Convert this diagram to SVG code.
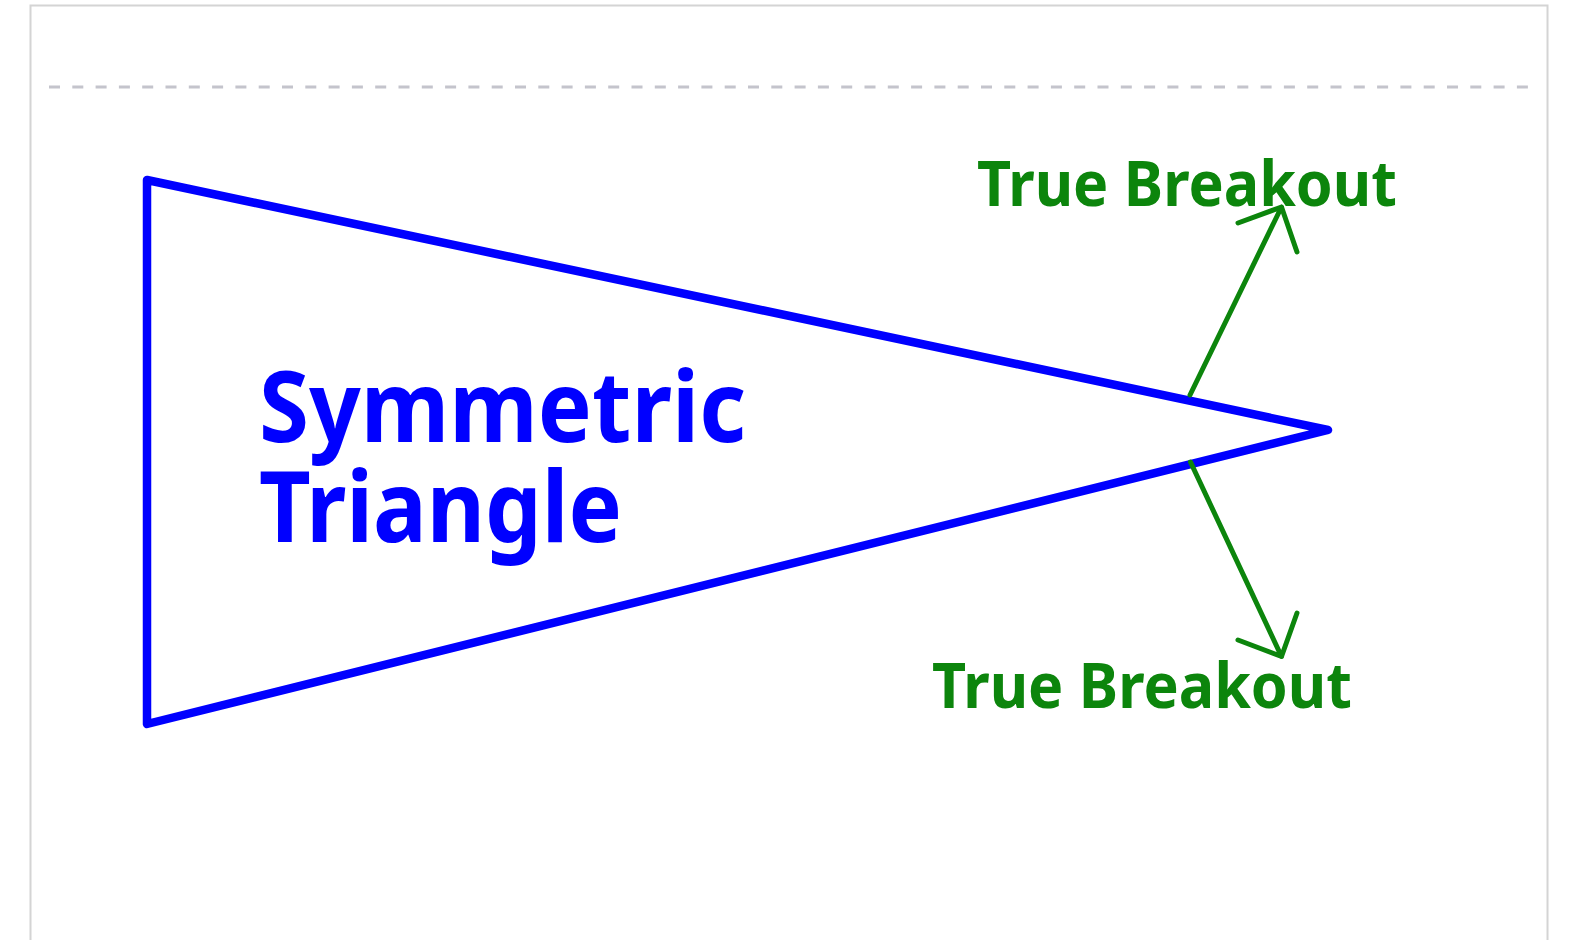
<svg xmlns="http://www.w3.org/2000/svg" width="1592" height="940" viewBox="0 0 1592 940">
<style>
.lbl{font-family:"Noto Sans","DejaVu Sans",sans-serif;font-weight:bold;}
.green{fill:#0c850c;font-size:62px;}
.blue{fill:#0000ff;font-size:98px;}
.arr{stroke:#0c850c;stroke-width:5;fill:none;stroke-linecap:round;stroke-linejoin:round;}
</style>
<rect x="0" y="0" width="1592" height="940" fill="#ffffff"/>
<rect x="30.5" y="5.5" width="1517" height="960" fill="#ffffff" stroke="#d4d4d4" stroke-width="2"/>
<line x1="49" y1="87" x2="1530" y2="87" stroke="#c4c4cc" stroke-width="3" stroke-dasharray="11 12.3"/>
<g id="triangle">
<polygon points="147,180 1328,430 147,724" fill="none" stroke="#0000ff" stroke-width="8.5" stroke-linejoin="round"/>
<text class="lbl blue" x="259" y="442" textLength="487" lengthAdjust="spacingAndGlyphs">Symmetric</text>
<text class="lbl blue" x="259" y="542" textLength="363" lengthAdjust="spacingAndGlyphs">Triangle</text>
</g>
<g id="connectors">
<path class="arr" d="M1190,395 L1281.5,207 M1238,223 L1281.5,207 L1297,252"/>
<path class="arr" d="M1190.5,462 L1281.5,656.5 M1238,640 L1281.5,656.5 L1297,613"/>
</g>
<g id="label-top">
<text class="lbl green" x="977" y="206" textLength="420" lengthAdjust="spacingAndGlyphs">True Breakout</text>
</g>
<g id="label-bottom">
<text class="lbl green" x="932" y="708" textLength="420" lengthAdjust="spacingAndGlyphs">True Breakout</text>
</g>
</svg>
